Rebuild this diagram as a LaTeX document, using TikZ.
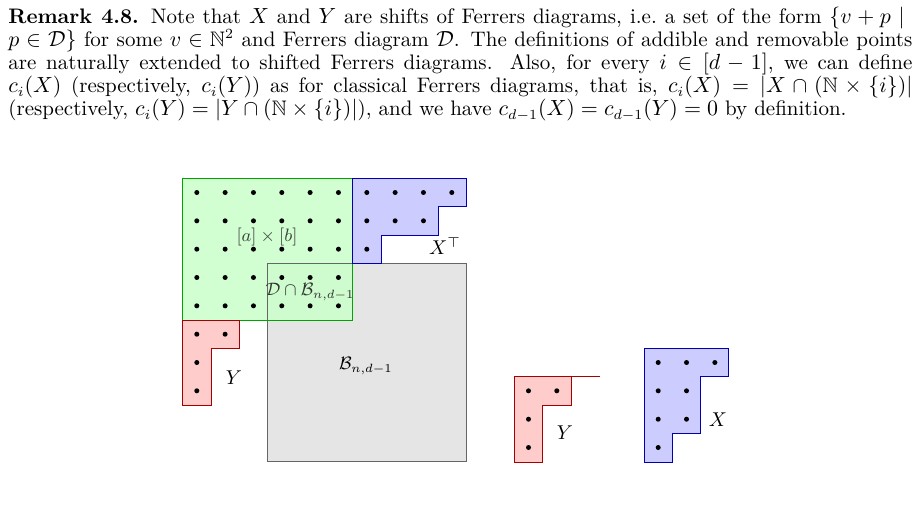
\documentclass[tikz,border=0pt]{standalone}
\usepackage{amsmath,amssymb}
\begin{document}
\begin{tikzpicture}[x=0.5pt,y=-0.5pt,
  dot/.style={fill=black,circle,inner sep=0pt,minimum size=2.5pt},
  lab/.style={font=\fontsize{8.8}{10}\selectfont},
  bl/.style={fill=blue!20,draw=blue!70!black,line width=0.4pt},
  rd/.style={fill=red!20,draw=red!65!black,line width=0.4pt}]
\useasboundingbox (0,0) rectangle (921,510);
\node[anchor=north west,text width=452pt,align=justify,inner sep=0pt,font=\fontsize{10.5}{11.5}\selectfont] (txt) at (8,7) {\textbf{Remark 4.8.} Note that $X$ and $Y$ are shifts of Ferrers diagrams, i.e.\ a set of the form $\{v+p\mid{}$\linebreak $p\in\mathcal{D}\}$ for some $v\in\mathbb{N}^2$ and Ferrers diagram $\mathcal{D}$. The definitions of addible and removable points\linebreak are naturally extended to shifted Ferrers diagrams. Also, for every $i\in[d-1]$, we can define\linebreak $c_i(X)$ (respectively, $c_i(Y)$) as for classical Ferrers diagrams, that is, $c_i(X)=|X\cap(\mathbb{N}\times\{i\})|$\linebreak (respectively, $c_i(Y)=|Y\cap(\mathbb{N}\times\{i\})|$), and we have $c_{d-1}(X)=c_{d-1}(Y)=0$ by definition.};
\def\u{28.33}
\fill[black!10] (267.7,263.3) rectangle (466,461.6);
\fill[green!20,fill opacity=0.9] (182.7,178.3) rectangle (352.7,320);
\draw[black!60,line width=0.5pt] (267.7,263.3) rectangle (466,461.6);
\draw[green!65!black,line width=0.4pt] (182.7,178.3) rectangle (352.7,320);
\draw[bl] (352.7,178.3) -- (466,178.3) -- (466,206.7) -- (438.3,206.7) -- (438.3,235) -- (381,235) -- (381,263.3) -- (352.7,263.3) -- cycle;
\draw[rd] (182.7,320) -- (239.3,320) -- (239.3,348.3) -- (211,348.3) -- (211,405) -- (182.7,405) -- cycle;
\draw[rd] (514.3,376.7) -- (571,376.7) -- (571,405) -- (542.7,405) -- (542.7,462) -- (514.3,462) -- cycle;
\draw[red!65!black,line width=0.4pt] (571,376.7) -- (600,376.7);
\draw[bl] (644,348.3) -- (728.7,348.3) -- (728.7,376.7) -- (700.3,376.7) -- (700.3,433.7) -- (672.3,433.7) -- (672.3,462) -- (644,462) -- cycle;
\foreach \i in {0,...,5} \foreach \j in {0,...,4}
  \node[dot] at ({196.8+\i*\u},{192.5+\j*\u}) {};
\foreach \i in {0,...,3} \node[dot] at ({366.8+\i*\u},192.5) {};
\foreach \i in {0,...,2} \node[dot] at ({366.8+\i*\u},220.8) {};
\node[dot] at (366.8,249.2) {};
\node[dot] at (196.8,334.2) {}; \node[dot] at (225.1,334.2) {};
\node[dot] at (196.8,362.5) {}; \node[dot] at (196.8,390.8) {};
\node[dot] at (528.5,390.8) {}; \node[dot] at (556.8,390.8) {};
\node[dot] at (528.5,419.2) {}; \node[dot] at (528.5,447.5) {};
\foreach \i in {0,...,2} \node[dot] at ({658.2+\i*\u},362.5) {};
\node[dot] at (658.2,390.8) {}; \node[dot] at (686.5,390.8) {};
\node[dot] at (658.2,419.2) {}; \node[dot] at (686.5,419.2) {};
\node[dot] at (658.2,447.5) {};
\node[lab,black!75] (ab) at (267,237) {$[a]\times[b]$};
\node[lab,black!80] (db) at (310,292) {$\mathcal{D}\cap\mathcal{B}_{n,d-1}$};
\node[lab] (bb) at (366,366) {$\mathcal{B}_{n,d-1}$};
\node (xt) at (445,246) {$X^{\top}$};
\node (y1) at (234,378) {$Y$};
\node (y2) at (565,433) {$Y$};
\node (x2) at (718,420) {$X$};
\end{tikzpicture}
\end{document}
